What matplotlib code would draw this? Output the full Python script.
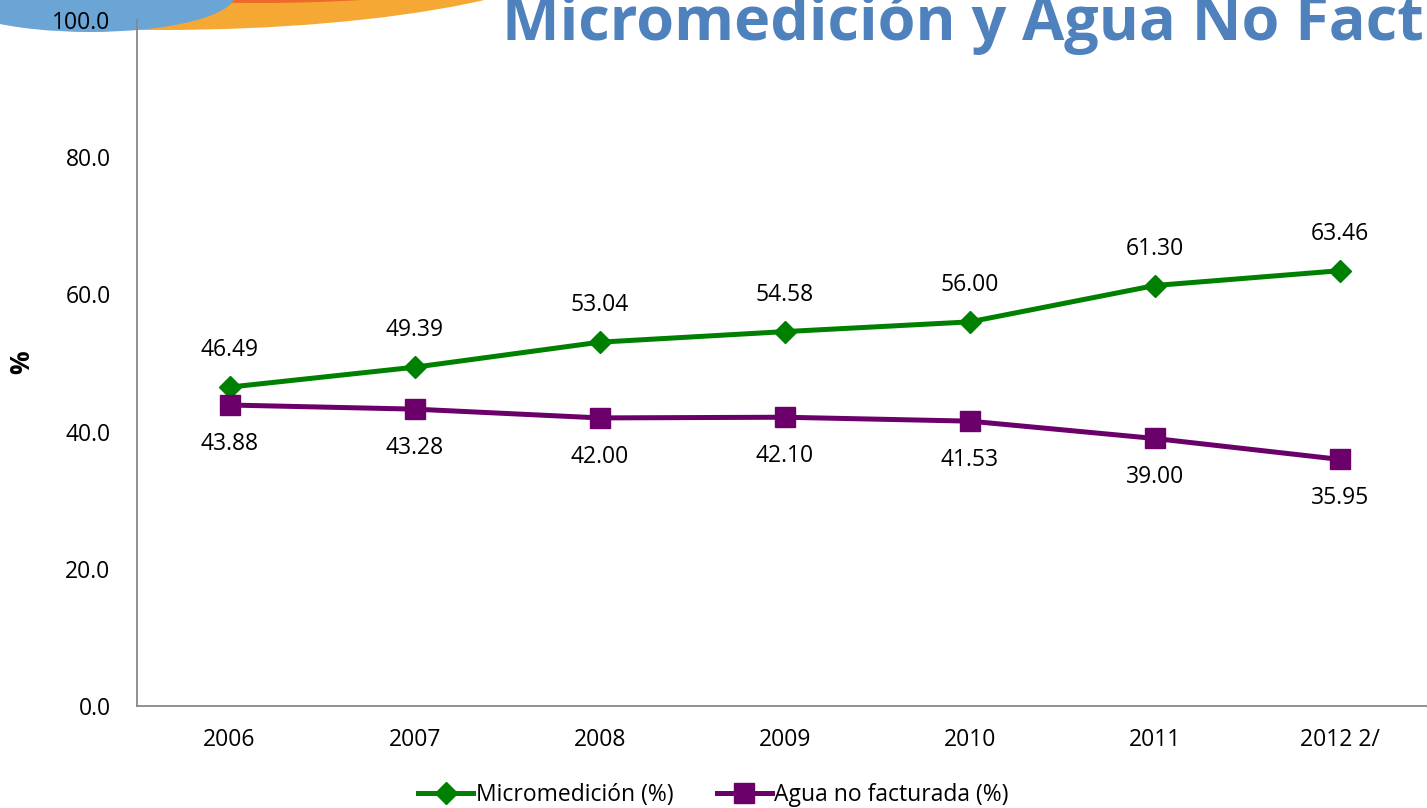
import matplotlib.pyplot as plt
from matplotlib.patches import Ellipse

years = ["2006", "2007", "2008", "2009", "2010", "2011", "2012 2/"]
micro = [46.49, 49.39, 53.04, 54.58, 56.00, 61.30, 63.46]
agua = [43.88, 43.28, 42.00, 42.10, 41.53, 39.00, 35.95]

green = "#008000"
purple = "#6b006b"
fs = 16.5

plt.rcParams['font.family'] = ['Open Sans', 'DejaVu Sans']

W, H = 1427, 808
fig = plt.figure(figsize=(W / 100, H / 100), dpi=100)


def swoosh(cx, cy, w, h, color, z):
    # pixel coords from top-left -> figure fraction
    fig.patches.append(Ellipse((cx / W, 1 - cy / H), w / W, h / H,
                               transform=fig.transFigure, facecolor=color,
                               edgecolor="none", zorder=z))


# decorative swoosh top-left
swoosh(160, -60, 870, 180, "#f5a833", -3)
swoosh(260, -80, 760, 166, "#ee6a2a", -2.5)
swoosh(90, -5, 290, 74, "#6aa5d6", -2)

ax = fig.add_axes([0.096, 0.1262, 0.9078, 0.849])
ax.patch.set_alpha(0)
x = range(len(years))
ax.plot(x, micro, color=green, lw=3.6, marker="D", ms=11, label="Micromedición (%)")
ax.plot(x, agua, color=purple, lw=3.6, marker="s", ms=14, label="Agua no facturada (%)")

for i in x:
    ax.annotate(f"{micro[i]:.2f}", (i, micro[i]), xytext=(0, 26.5), textcoords="offset points",
                ha="center", va="center", fontsize=fs)
    ax.annotate(f"{agua[i]:.2f}", (i, agua[i]), xytext=(0, -28), textcoords="offset points",
                ha="center", va="center", fontsize=fs)

ax.set_xlim(-0.5, len(years) - 0.5)
ax.set_ylim(0, 100)
ax.set_yticks([0, 20, 40, 60, 80, 100])
ax.set_yticklabels([f"{v:.1f}" for v in [0, 20, 40, 60, 80, 100]], fontsize=fs)
ax.set_xticks(list(x))
ax.set_xticklabels(years, fontsize=fs)
ax.tick_params(axis="both", length=0)
ax.tick_params(axis="x", pad=16)
ax.tick_params(axis="y", pad=19)
for s in ["top", "right"]:
    ax.spines[s].set_visible(False)
for s in ["left", "bottom"]:
    ax.spines[s].set_color("#888888")
    ax.spines[s].set_linewidth(1.3)

fig.text(0.015, 0.552, "%", rotation=90, fontsize=19, fontweight="bold", ha="center", va="center")

fig.text(0.352, 0.95, "Micromedición y Agua No Facturada", color="#4f81bd",
         fontsize=44, fontweight="bold", ha="left", va="baseline", zorder=5)

fig.legend(loc="center", bbox_to_anchor=(0.5, 0.016), ncol=2, frameon=False,
           fontsize=fs, handlelength=2.4, handletextpad=0.1, columnspacing=1.9)

fig.savefig("out.png", dpi=100)
